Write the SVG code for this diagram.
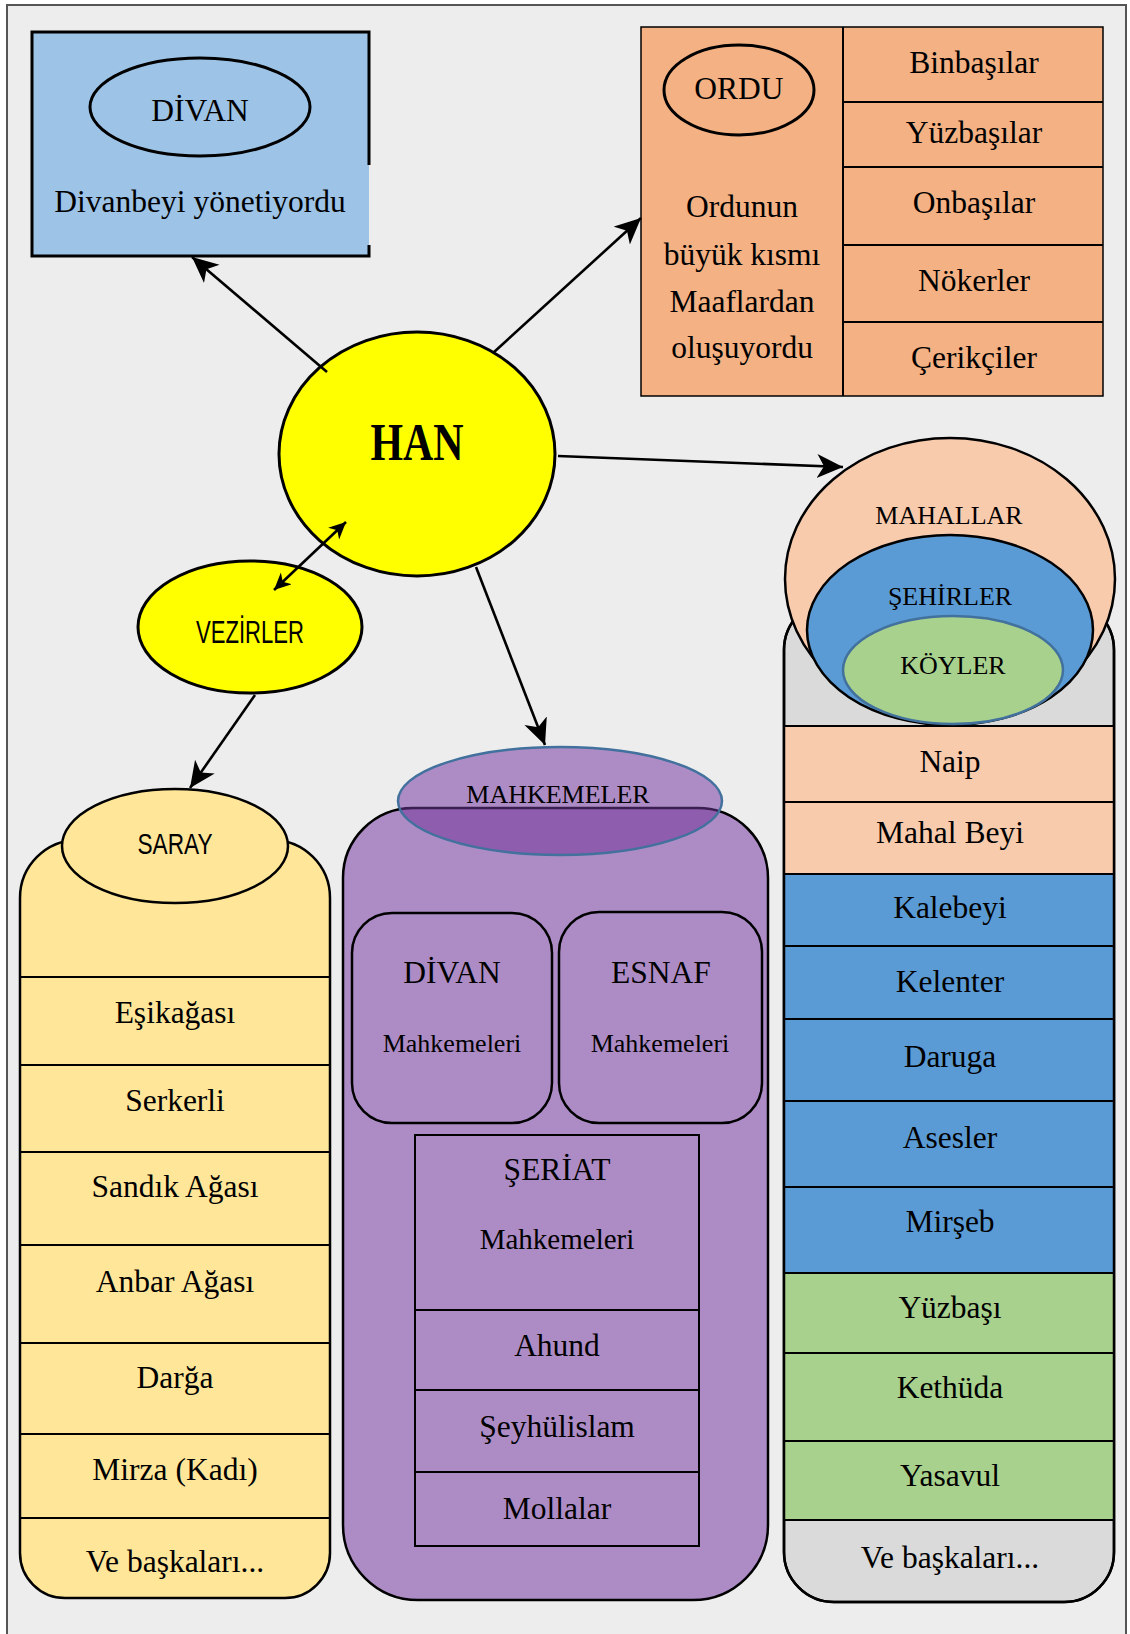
<svg xmlns="http://www.w3.org/2000/svg" width="1130" height="1634" viewBox="0 0 1130 1634">
<style>
.t{font-family:"Liberation Serif","Times New Roman",serif;font-size:31.5px;text-anchor:middle;fill:#000}
.m{font-size:26px}
.sans{font-family:"Liberation Sans",Arial,sans-serif;text-anchor:middle;fill:#000}
.ln{stroke:#000;stroke-width:2;fill:none}
.conn{stroke:#000;stroke-width:2.6;fill:none}
</style>
<defs>
<marker id="ah" markerUnits="userSpaceOnUse" markerWidth="30" markerHeight="26" refX="26" refY="12" orient="auto">
<path d="M0,0 L26,12 L0,24 L7,12 Z" fill="#000"/>
</marker>
<marker id="ahs" markerUnits="userSpaceOnUse" markerWidth="20" markerHeight="18" refX="17" refY="8" orient="auto-start-reverse">
<path d="M0,0 L17,8 L0,16 L5,8 Z" fill="#000"/>
</marker>
<clipPath id="mahClip"><ellipse cx="560" cy="801" rx="162" ry="54"/></clipPath>
</defs>
<rect x="0" y="0" width="1130" height="1634" fill="#ffffff"/>
<rect x="7" y="5" width="1119" height="1640" fill="#ededed" stroke="#555" stroke-width="2"/>

<g id="divan">
<rect x="32" y="32" width="337" height="224" fill="#9dc3e6"/>
<path d="M369,165 L369,32 L32,32 L32,256 L369,256 L369,245" stroke="#000" stroke-width="3" fill="none"/>
<ellipse cx="200" cy="107" rx="110" ry="49" fill="none" stroke="#000" stroke-width="3"/>
<text class="t" x="200" y="121">DİVAN</text>
<text class="t" x="200" y="212">Divanbeyi yönetiyordu</text>
</g>

<g id="ordu">
<rect x="641" y="27" width="462" height="369" fill="#f4b183" stroke="#000" stroke-width="1.5"/>
<line class="ln" x1="843" y1="27" x2="843" y2="396" stroke-width="1.5"/>
<line class="ln" x1="843" y1="102" x2="1103" y2="102"/>
<line class="ln" x1="843" y1="167" x2="1103" y2="167"/>
<line class="ln" x1="843" y1="245" x2="1103" y2="245"/>
<line class="ln" x1="843" y1="322" x2="1103" y2="322"/>
<ellipse cx="739" cy="90" rx="75" ry="45" fill="none" stroke="#000" stroke-width="3"/>
<text class="t" x="739" y="99">ORDU</text>
<text class="t" x="742" y="217">Ordunun</text>
<text class="t" x="742" y="265">büyük kısmı</text>
<text class="t" x="742" y="312">Maaflardan</text>
<text class="t" x="742" y="358">oluşuyordu</text>
<text class="t" x="974" y="73">Binbaşılar</text>
<text class="t" x="974" y="143">Yüzbaşılar</text>
<text class="t" x="974" y="213">Onbaşılar</text>
<text class="t" x="974" y="291">Nökerler</text>
<text class="t" x="974" y="368">Çerikçiler</text>
</g>

<g id="han">
<ellipse cx="417" cy="454" rx="138" ry="122" fill="#ffff00" stroke="#000" stroke-width="3"/>
<text class="t" x="417" y="460" style="font-size:52px;font-weight:bold" textLength="93" lengthAdjust="spacingAndGlyphs">HAN</text>
</g>

<g id="vezirler">
<ellipse cx="250" cy="627" rx="112" ry="66" fill="#ffff00" stroke="#000" stroke-width="3"/>
<text class="sans" x="250" y="643" style="font-size:31px" textLength="108" lengthAdjust="spacingAndGlyphs">VEZİRLER</text>
</g>

<g id="saray">
<path d="M20,898 A58,58 0 0 1 78,840 L272,840 A58,58 0 0 1 330,898 L330,1553 A45,45 0 0 1 285,1598 L65,1598 A45,45 0 0 1 20,1553 Z" fill="#ffe699" stroke="#000" stroke-width="2.5"/>
<line class="ln" x1="20" y1="977" x2="330" y2="977"/>
<line class="ln" x1="20" y1="1065" x2="330" y2="1065"/>
<line class="ln" x1="20" y1="1152" x2="330" y2="1152"/>
<line class="ln" x1="20" y1="1245" x2="330" y2="1245"/>
<line class="ln" x1="20" y1="1343" x2="330" y2="1343"/>
<line class="ln" x1="20" y1="1434" x2="330" y2="1434"/>
<line class="ln" x1="20" y1="1518" x2="330" y2="1518"/>
<ellipse cx="175" cy="846" rx="113" ry="57" fill="#ffe699" stroke="#000" stroke-width="2.5"/>
<text class="sans" x="175" y="854" style="font-size:30px" textLength="75" lengthAdjust="spacingAndGlyphs">SARAY</text>
<text class="t" x="175" y="1023">Eşikağası</text>
<text class="t" x="175" y="1111">Serkerli</text>
<text class="t" x="175" y="1197">Sandık Ağası</text>
<text class="t" x="175" y="1292">Anbar Ağası</text>
<text class="t" x="175" y="1388">Darğa</text>
<text class="t" x="175" y="1480">Mirza (Kadı)</text>
<text class="t" x="175" y="1572">Ve başkaları...</text>
</g>

<g id="mahkemeler">
<path d="M343,878 A70,70 0 0 1 413,808 L698,808 A70,70 0 0 1 768,878 L768,1525 A75,75 0 0 1 693,1600 L418,1600 A75,75 0 0 1 343,1525 Z" fill="#ad8cc6" stroke="#000" stroke-width="2.5"/>
<ellipse cx="560" cy="801" rx="162" ry="54" fill="#ad8cc6"/>
<path d="M343,878 A70,70 0 0 1 413,808 L698,808 A70,70 0 0 1 768,878 L768,1525 A75,75 0 0 1 693,1600 L418,1600 A75,75 0 0 1 343,1525 Z" fill="#8e5dae" stroke="#3a1f50" stroke-width="2.5" clip-path="url(#mahClip)"/>
<ellipse cx="560" cy="801" rx="162" ry="54" fill="none" stroke="#41719c" stroke-width="2.5"/>
<text class="t m" x="558" y="803">MAHKEMELER</text>
<rect x="352" y="913" width="200" height="210" rx="40" ry="40" fill="#ad8cc6" stroke="#000" stroke-width="2.5"/>
<rect x="559" y="912" width="203" height="211" rx="40" ry="40" fill="#ad8cc6" stroke="#000" stroke-width="2.5"/>
<text class="t" x="452" y="983">DİVAN</text>
<text class="t m" x="452" y="1052">Mahkemeleri</text>
<text class="t" x="661" y="983">ESNAF</text>
<text class="t m" x="660" y="1052">Mahkemeleri</text>
<rect x="415" y="1135" width="284" height="411" fill="none" stroke="#000" stroke-width="2"/>
<line class="ln" x1="415" y1="1310" x2="699" y2="1310"/>
<line class="ln" x1="415" y1="1390" x2="699" y2="1390"/>
<line class="ln" x1="415" y1="1472" x2="699" y2="1472"/>
<text class="t" x="557" y="1180">ŞERİAT</text>
<text class="t" x="557" y="1249" style="font-size:29px">Mahkemeleri</text>
<text class="t" x="557" y="1356">Ahund</text>
<text class="t" x="557" y="1437">Şeyhülislam</text>
<text class="t" x="557" y="1519">Mollalar</text>
</g>

<g id="mahallar">
<path d="M784,650 A50,50 0 0 1 834,600 L1064,600 A50,50 0 0 1 1114,650 L1114,1552 A50,50 0 0 1 1064,1602 L834,1602 A50,50 0 0 1 784,1552 Z" fill="#dadada" stroke="#000" stroke-width="2.5"/>
<rect x="784" y="726" width="330" height="148" fill="#f8cbad"/>
<rect x="784" y="874" width="330" height="399" fill="#5b9bd5"/>
<rect x="784" y="1273" width="330" height="247" fill="#a9d18e"/>
<line class="ln" x1="784" y1="726" x2="1114" y2="726"/>
<line class="ln" x1="784" y1="802" x2="1114" y2="802"/>
<line class="ln" x1="784" y1="874" x2="1114" y2="874"/>
<line class="ln" x1="784" y1="946" x2="1114" y2="946"/>
<line class="ln" x1="784" y1="1019" x2="1114" y2="1019"/>
<line class="ln" x1="784" y1="1101" x2="1114" y2="1101"/>
<line class="ln" x1="784" y1="1187" x2="1114" y2="1187"/>
<line class="ln" x1="784" y1="1273" x2="1114" y2="1273"/>
<line class="ln" x1="784" y1="1353" x2="1114" y2="1353"/>
<line class="ln" x1="784" y1="1441" x2="1114" y2="1441"/>
<line class="ln" x1="784" y1="1520" x2="1114" y2="1520"/>
<path d="M784,650 A50,50 0 0 1 834,600 L1064,600 A50,50 0 0 1 1114,650 L1114,1552 A50,50 0 0 1 1064,1602 L834,1602 A50,50 0 0 1 784,1552 Z" fill="none" stroke="#000" stroke-width="2.5"/>
<ellipse cx="950" cy="579" rx="165" ry="141" fill="#f8cbad" stroke="#000" stroke-width="2.5"/>
<ellipse cx="950" cy="630" rx="143" ry="95" fill="#5b9bd5" stroke="#000" stroke-width="2.5"/>
<ellipse cx="953" cy="670" rx="110" ry="54" fill="#a9d18e" stroke="#41719c" stroke-width="2.5"/>
<text class="t m" x="949" y="524">MAHALLAR</text>
<text class="t m" x="950" y="605">ŞEHİRLER</text>
<text class="t m" x="953" y="674">KÖYLER</text>
<text class="t" x="950" y="772">Naip</text>
<text class="t" x="950" y="843">Mahal Beyi</text>
<text class="t" x="950" y="918">Kalebeyi</text>
<text class="t" x="950" y="992">Kelenter</text>
<text class="t" x="950" y="1067">Daruga</text>
<text class="t" x="950" y="1148">Asesler</text>
<text class="t" x="950" y="1232">Mirşeb</text>
<text class="t" x="950" y="1318">Yüzbaşı</text>
<text class="t" x="950" y="1398">Kethüda</text>
<text class="t" x="950" y="1486">Yasavul</text>
<text class="t" x="950" y="1568">Ve başkaları...</text>
</g>

<g id="connectors">
<line class="conn" x1="327" y1="372" x2="192" y2="257" marker-end="url(#ah)"/>
<line class="conn" x1="493" y1="353" x2="641" y2="218" marker-end="url(#ah)"/>
<line class="conn" x1="558" y1="456" x2="843" y2="467" marker-end="url(#ah)"/>
<line class="conn" x1="476" y1="567" x2="545" y2="745" marker-end="url(#ah)"/>
<line class="conn" x1="274" y1="590" x2="346" y2="522" marker-start="url(#ahs)" marker-end="url(#ahs)"/>
<line class="conn" x1="255" y1="695" x2="190" y2="788" marker-end="url(#ah)"/>
</g>
</svg>
